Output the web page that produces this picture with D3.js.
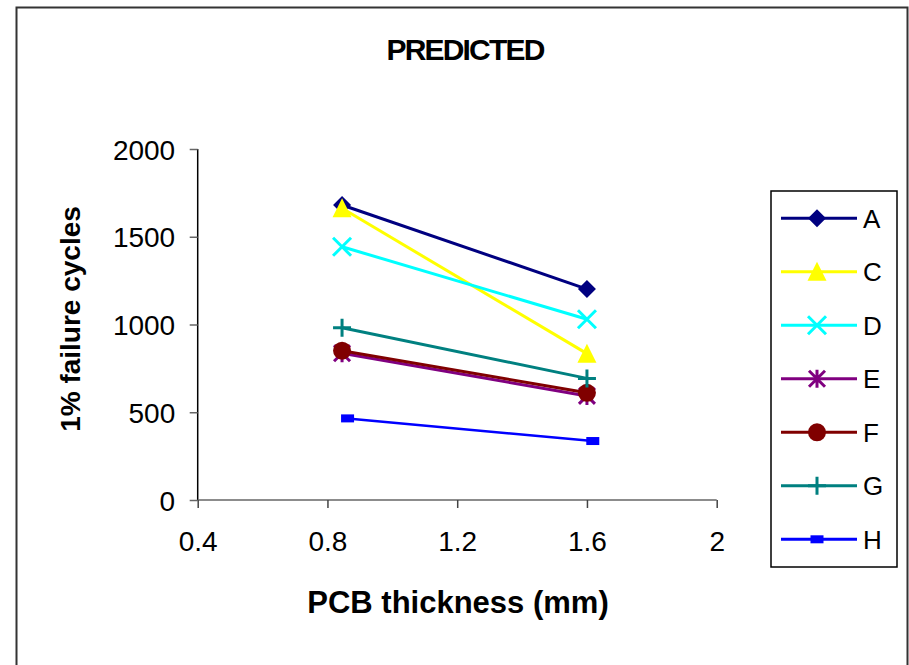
<!DOCTYPE html>
<html>
<head>
<meta charset="utf-8">
<script src="https://cdn.jsdelivr.net/npm/d3@7/dist/d3.min.js"></script>
<style>
  html, body { margin: 0; padding: 0; background: #fff; }
  svg { display: block; font-family: Arial, "Liberation Sans", sans-serif; }
</style>
</head>
<body>
<svg id="chart" width="909" height="665"></svg>
<script>
// ---- data ----
const seriesNames = ["A", "C", "D", "E", "F", "G", "H"];
const thickness   = [0.845, 1.6];
const thicknessH  = [0.862, 1.618];
const valuesA = [1681, 1202];
const valuesC = [1662, 834];
const valuesD = [1443, 1030];
const valuesE = [836, 593];
const valuesF = [851, 611];
const valuesG = [982, 693];
const valuesH = [465, 336];
const xTicks = [0.4, 0.8, 1.2, 1.6, 2];
const yTicks = [0, 500, 1000, 1500, 2000];
const xTickLabels = ["0.4", "0.8", "1.2", "1.6", "2"];
const yTickLabels = ["0", "500", "1000", "1500", "2000"];

const colors  = {A: "#000080", C: "#FFFF00", D: "#00FFFF", E: "#800080", F: "#800000", G: "#008080", H: "#0000FF"};
const markers = {A: "diamond", C: "triangle", D: "x", E: "asterisk", F: "circle", G: "plus", H: "square"};

const series = [
  {name: "A", xs: thickness,  ys: valuesA},
  {name: "C", xs: thickness,  ys: valuesC},
  {name: "D", xs: thickness,  ys: valuesD},
  {name: "E", xs: thickness,  ys: valuesE},
  {name: "F", xs: thickness,  ys: valuesF},
  {name: "G", xs: thickness,  ys: valuesG},
  {name: "H", xs: thicknessH, ys: valuesH}
];

const svg = d3.select("#chart");

// outer chart border
svg.append("rect").attr("x", 16.5).attr("y", 7.5).attr("width", 891).attr("height", 680)
  .attr("fill", "#fff").attr("stroke", "#333").attr("stroke-width", 2);

const x = d3.scaleLinear().domain([0.4, 2]).range([197.7, 716.7]);
const y = d3.scaleLinear().domain([0, 2000]).range([500, 149]);

// title
svg.append("text").attr("x", 465).attr("y", 60).attr("text-anchor", "middle")
  .attr("font-size", 30).attr("font-weight", "bold").attr("letter-spacing", -1.8)
  .text("PREDICTED");

// y axis
const yAxis = d3.axisLeft(y).tickValues(yTicks).tickSize(8).tickPadding(14.5)
  .tickFormat((d, i) => yTickLabels[i]);
const gy = svg.append("g").attr("transform", "translate(197.7,0)").call(yAxis);
gy.select(".domain").attr("stroke", "#000").attr("stroke-width", 1.5);
gy.selectAll(".tick line").attr("stroke", "#666").attr("stroke-width", 1.5);
gy.selectAll(".tick text").attr("font-size", 28).attr("fill", "#000")
  .attr("font-family", "Arial, 'Liberation Sans', sans-serif").attr("dy", "0.36em");

// x axis
const xAxis = d3.axisBottom(x).tickValues(xTicks).tickSize(8).tickPadding(23)
  .tickFormat((d, i) => xTickLabels[i]);
const gx = svg.append("g").attr("transform", "translate(0,500)").call(xAxis);
gx.select(".domain").attr("stroke", "#666").attr("stroke-width", 1.5);
gx.selectAll(".tick line").attr("stroke", "#444").attr("stroke-width", 1.5);
gx.selectAll(".tick text").attr("font-size", 28).attr("fill", "#000")
  .attr("font-family", "Arial, 'Liberation Sans', sans-serif");
gy.select(".domain").attr("d", `M0,${y(2000)}V${y(0)}`);
gx.select(".domain").attr("d", `M${x(0.4)},0H${x(2)}`);

// axis titles
svg.append("text").attr("x", 458).attr("y", 613).attr("text-anchor", "middle")
  .attr("font-size", 31).attr("font-weight", "bold")
  .text("PCB thickness (mm)");
svg.append("text").attr("transform", "translate(80,319) rotate(-90)")
  .attr("text-anchor", "middle").attr("font-size", 28).attr("font-weight", "bold")
  .text("1% failure cycles");

// marker drawing
function drawMarker(g, type, cx, cy, color) {
  const m = g.append("g").attr("transform", `translate(${cx},${cy})`);
  switch (type) {
    case "diamond":
      m.append("path").attr("d", "M0,-9L9,0L0,9L-9,0Z").attr("fill", color);
      break;
    case "triangle":
      m.append("path").attr("d", "M0,-10L9.5,9L-9.5,9Z").attr("fill", color);
      break;
    case "x":
      m.append("path").attr("d", "M-9,-9L9,9M-9,9L9,-9").attr("stroke", color).attr("stroke-width", 3).attr("fill", "none");
      break;
    case "asterisk":
      m.append("path").attr("d", "M-8,-8L8,8M-8,8L8,-8M0,-9V9").attr("stroke", color).attr("stroke-width", 3).attr("fill", "none");
      break;
    case "circle":
      m.append("circle").attr("r", 9).attr("fill", color);
      break;
    case "plus":
      m.append("path").attr("d", "M-9,0H9M0,-9V9").attr("stroke", color).attr("stroke-width", 3).attr("fill", "none");
      break;
    case "square":
      m.append("rect").attr("x", -6.5).attr("y", -4).attr("width", 13).attr("height", 8).attr("fill", color);
      break;
  }
}

const line = d3.line().x(d => x(d[0])).y(d => y(d[1]));
const plot = svg.append("g");
series.forEach(s => {
  const pts = s.xs.map((v, i) => [v, s.ys[i]]);
  const g = plot.append("g");
  g.append("path").attr("d", line(pts)).attr("fill", "none")
    .attr("stroke", colors[s.name]).attr("stroke-width", s.name === "H" ? 2.5 : 3);
  pts.forEach(p => drawMarker(g, markers[s.name], x(p[0]), y(p[1]), colors[s.name]));
});

// legend
const legend = svg.append("g");
legend.append("rect").attr("x", 771).attr("y", 191).attr("width", 126).attr("height", 376)
  .attr("fill", "#fff").attr("stroke", "#000").attr("stroke-width", 1.5);
const rowY = d3.scalePoint().domain(seriesNames).range([218.3, 539.3]);
seriesNames.forEach(n => {
  const cy = rowY(n);
  legend.append("line").attr("x1", 781).attr("x2", 857).attr("y1", cy).attr("y2", cy)
    .attr("stroke", colors[n]).attr("stroke-width", 3);
  drawMarker(legend, markers[n], 817, cy, colors[n]);
  legend.append("text").attr("x", 863).attr("y", cy + 9.5).attr("font-size", 26).text(n);
});
</script>
</body>
</html>
